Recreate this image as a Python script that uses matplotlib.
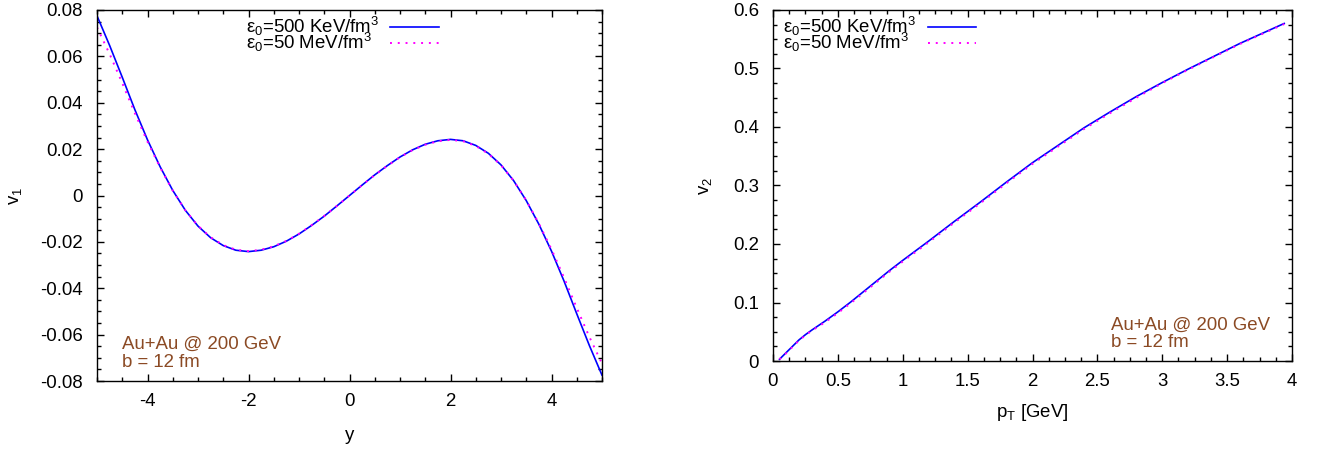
import matplotlib
matplotlib.use('Agg')
import matplotlib.pyplot as plt
from matplotlib.ticker import MultipleLocator, FuncFormatter

plt.rcParams['font.family'] = ['Liberation Sans', 'DejaVu Sans']
plt.rcParams['mathtext.fontset'] = 'custom'
plt.rcParams['mathtext.rm'] = 'Liberation Sans'
plt.rcParams['mathtext.it'] = 'Liberation Sans:italic'
plt.rcParams['axes.unicode_minus'] = False

# left panel: v1 vs rapidity
rap = [-5.0, -4.75, -4.5, -4.25, -4.0, -3.75, -3.5, -3.25, -3.0, -2.75, -2.5,
       -2.25, -2.0, -1.75, -1.5, -1.25, -1.0, -0.75, -0.5, -0.25, 0.0,
       0.25, 0.5, 0.75, 1.0, 1.25, 1.5, 1.75, 2.0, 2.25, 2.5,
       2.75, 3.0, 3.25, 3.5, 3.75, 4.0, 4.25, 4.5, 4.75, 5.0]
v1_500kev = [0.0775, 0.0647, 0.0510, 0.0370, 0.0240, 0.0124, 0.0022, -0.0064, -0.0132, -0.0182, -0.0216,
             -0.0236, -0.0242, -0.0236, -0.0221, -0.0197, -0.0166, -0.0129, -0.0089, -0.0045, 0.0,
             0.0045, 0.0089, 0.0129, 0.0166, 0.0197, 0.0221, 0.0236, 0.0242, 0.0236, 0.0216,
             0.0182, 0.0132, 0.0064, -0.0022, -0.0124, -0.0240, -0.0370, -0.0510, -0.0647, -0.0775]
v1_50mev = [0.0725, 0.0610, 0.0485, 0.0355, 0.0232, 0.0121, 0.0021, -0.0064, -0.0131, -0.0180, -0.0214,
            -0.0234, -0.0240, -0.0234, -0.0219, -0.0196, -0.0165, -0.0128, -0.0088, -0.0045, 0.0,
            0.0045, 0.0088, 0.0128, 0.0165, 0.0196, 0.0219, 0.0234, 0.0240, 0.0234, 0.0214,
            0.0180, 0.0131, 0.0064, -0.0021, -0.0121, -0.0232, -0.0355, -0.0485, -0.0610, -0.0725]

# right panel: v2 vs pT
pt = [0.05, 0.1, 0.15, 0.2, 0.25, 0.3, 0.4, 0.5, 0.6, 0.7, 0.8, 0.9, 1.0,
      1.2, 1.4, 1.6, 1.8, 2.0, 2.2, 2.4, 2.6, 2.8, 3.0, 3.2, 3.4, 3.6, 3.8, 3.94]
v2_500kev = [0.003, 0.014, 0.025, 0.036, 0.045, 0.053, 0.068, 0.084, 0.101, 0.119, 0.137, 0.155, 0.172,
             0.205, 0.239, 0.272, 0.306, 0.339, 0.369, 0.399, 0.426, 0.452, 0.476, 0.499, 0.521, 0.543, 0.563, 0.577]
v2_50mev = [0.003, 0.013, 0.024, 0.035, 0.044, 0.052, 0.066, 0.082, 0.099, 0.117, 0.135, 0.153, 0.170,
            0.203, 0.237, 0.270, 0.304, 0.337, 0.367, 0.397, 0.424, 0.450, 0.475, 0.498, 0.520, 0.542, 0.562, 0.576]

lab_500 = r'ε$_0$=500 KeV/fm$^3$'
lab_50 = r'ε$_0$=50 MeV/fm$^3$'
note = 'Au+Au @ 200 GeV\nb = 12 fm'
note_col = '#8b4a24'
fs = 13.4

W, H = 1325, 451
fig = plt.figure(figsize=(W / 100, H / 100), dpi=100)
ax1 = fig.add_axes([97 / W, (H - 381) / H, (602 - 97) / W, (381 - 10) / H])
ax2 = fig.add_axes([773 / W, (H - 361) / H, (1292 - 773) / W, (361 - 10) / H])

fmt = FuncFormatter(lambda v, p: '%g' % round(v, 6))


def stile(ax):
    ax.tick_params(which='both', direction='in', top=True, right=True, labelsize=fs, width=1.0)
    ax.tick_params(which='major', length=5, pad=9)
    ax.tick_params(which='minor', length=3)
    ax.tick_params(axis='y', which='major', pad=10)
    ax.xaxis.set_major_formatter(fmt)
    ax.yaxis.set_major_formatter(fmt)
    for s in ax.spines.values():
        s.set_linewidth(1.0)


def legenda(ax, x0, y0):
    leg = ax.legend(loc='upper left', bbox_to_anchor=(x0, y0), frameon=False, markerfirst=False,
                    fontsize=fs, handlelength=2.6, handletextpad=0.6, labelspacing=-0.38,
                    borderpad=0, borderaxespad=0)
    # testo allineato a sinistra come gnuplot, linee campione incolonnate
    fig.canvas.draw()
    r = fig.canvas.get_renderer()
    w = [t.get_window_extent(r).width for t in leg.get_texts()]
    col = leg._legend_handle_box.get_children()[0]
    col.align = 'left'
    for box, wi in zip(col.get_children(), w):
        box.sep += (max(w) - wi) * 72 / fig.dpi
    return leg


ax1.plot(rap, v1_500kev, color='#0000ff', lw=1.2, label=lab_500)
ax1.plot(rap, v1_50mev, color='#ff00ff', lw=1.4, ls=(0, (1, 3)), label=lab_50)
ax1.set_xlim(-5, 5)
ax1.set_ylim(-0.08, 0.08)
ax1.xaxis.set_major_locator(MultipleLocator(2))
ax1.xaxis.set_minor_locator(MultipleLocator(0.5))
ax1.yaxis.set_major_locator(MultipleLocator(0.02))
ax1.yaxis.set_minor_locator(MultipleLocator(0.005))
stile(ax1)
ax1.set_xlabel('y', fontsize=fs, labelpad=12)
ax1.set_ylabel(r'v$_1$', fontsize=fs, labelpad=12)
ax1.text(0.05, 0.074, note, transform=ax1.transAxes, color=note_col, fontsize=fs,
         va='center', ha='left', linespacing=1.05)

ax2.plot(pt, v2_500kev, color='#0000ff', lw=1.2, label=lab_500)
ax2.plot(pt, v2_50mev, color='#ff00ff', lw=1.4, ls=(0, (1, 3)), label=lab_50)
ax2.set_xlim(0, 4)
ax2.set_ylim(0, 0.6)
ax2.xaxis.set_major_locator(MultipleLocator(0.5))
ax2.xaxis.set_minor_locator(MultipleLocator(0.125))
ax2.yaxis.set_major_locator(MultipleLocator(0.1))
ax2.yaxis.set_minor_locator(MultipleLocator(0.025))
stile(ax2)
ax2.set_xlabel(r'p$_\mathrm{T}$ [GeV]', fontsize=fs, labelpad=8)
ax2.set_ylabel(r'v$_2$', fontsize=fs, labelpad=14)
ax2.text(0.652, 0.077, note, transform=ax2.transAxes, color=note_col, fontsize=fs,
         va='center', ha='left', linespacing=1.05)

legenda(ax1, 0.295, 0.986)
legenda(ax2, 0.02, 0.986)

fig.savefig('out.png', dpi=100)
